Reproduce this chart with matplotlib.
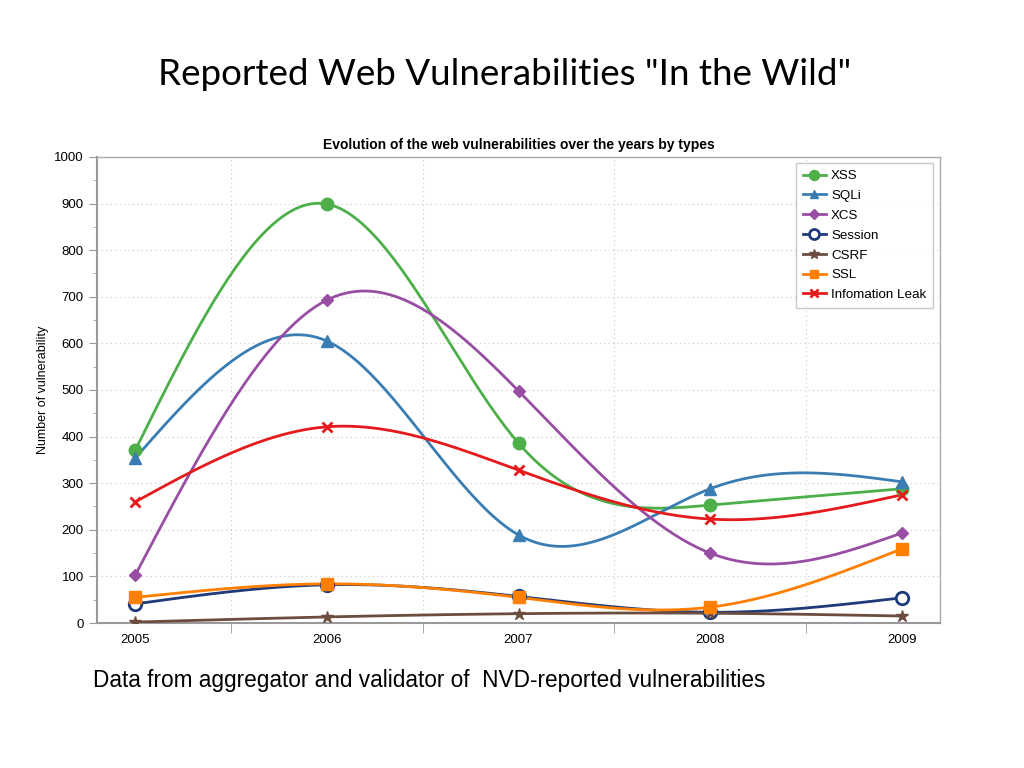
import numpy as np
import matplotlib
matplotlib.use("Agg")
import matplotlib.pyplot as plt
from matplotlib.ticker import MultipleLocator

years = [2005, 2006, 2007, 2008, 2009]
xss = [371, 899, 386, 253, 288]
sqli = [354, 605, 189, 288, 303]
xcs = [103, 693, 498, 150, 193]
session = [41, 82, 57, 23, 54]
csrf = [2, 13, 20, 21, 15]
ssl = [55, 84, 55, 34, 159]
info_leak = [260, 421, 328, 223, 275]


def natural_spline(x, y, n=200):
    # natural cubic spline through the data points, for the smooth lines
    x = np.asarray(x, float)
    y = np.asarray(y, float)
    k = len(x)
    h = np.diff(x)
    A = np.zeros((k, k))
    b = np.zeros(k)
    A[0, 0] = A[-1, -1] = 1
    for i in range(1, k - 1):
        A[i, i - 1] = h[i - 1]
        A[i, i] = 2 * (h[i - 1] + h[i])
        A[i, i + 1] = h[i]
        b[i] = 6 * ((y[i + 1] - y[i]) / h[i] - (y[i] - y[i - 1]) / h[i - 1])
    M = np.linalg.solve(A, b)
    xs = np.linspace(x[0], x[-1], n)
    idx = np.clip(np.searchsorted(x, xs) - 1, 0, k - 2)
    x0, x1 = x[idx], x[idx + 1]
    hh = x1 - x0
    a = (x1 - xs) / hh
    c = (xs - x0) / hh
    ys = (a * y[idx] + c * y[idx + 1]
          + ((a ** 3 - a) * M[idx] + (c ** 3 - c) * M[idx + 1]) * hh ** 2 / 6)
    return xs, ys


plt.rcParams["font.family"] = ["Liberation Sans", "DejaVu Sans"]

fig = plt.figure(figsize=(10.24, 7.68), dpi=100)
ax = fig.add_axes([0.0947, 0.1888, 0.8233, 0.6068])

series = [
    ("XSS", xss, "#4daf4a", "o", dict(markersize=9)),
    ("SQLi", sqli, "#3a7db3", "^", dict(markersize=8)),
    ("XCS", xcs, "#984ea3", "D", dict(markersize=6.5)),
    ("Session", session, "#1f3a78", "o", dict(markersize=9, markerfacecolor="white", markeredgewidth=2)),
    ("CSRF", csrf, "#6b4c3e", "*", dict(markersize=9)),
    ("SSL", ssl, "#ff7f00", "s", dict(markersize=8)),
    ("Infomation Leak", info_leak, "#e41a1c", "x", dict(markersize=7, markeredgewidth=2)),
]

for name, vals, color, marker, mkw in series:
    xs, ys = natural_spline(years, vals)
    ax.plot(xs, ys, color=color, lw=2, zorder=3)
    ax.plot(years, vals, linestyle="none", marker=marker, color=color, zorder=4, **mkw)
    ax.plot([], [], color=color, lw=2, marker=marker, label=name, **mkw)

ax.set_xlim(2004.8, 2009.2)
ax.set_ylim(0, 1000)
ax.set_xticks(years)
ax.set_xticklabels([str(y) for y in years], fontsize=9.5)
ax.tick_params(axis="x", which="major", length=0, pad=8)
ax.set_xticks([2005.5, 2006.5, 2007.5, 2008.5], minor=True)
ax.tick_params(axis="x", which="minor", length=7, color="#999999")

ax.yaxis.set_major_locator(MultipleLocator(100))
ax.yaxis.set_minor_locator(MultipleLocator(50))
ax.tick_params(axis="y", which="major", length=6, color="#999999", labelsize=9.5)
ax.tick_params(axis="y", which="minor", length=3, color="#999999")

ax.grid(axis="y", which="major", linestyle=(0, (1, 3)), color="#c8c8c8", lw=0.8)
ax.grid(axis="x", which="minor", linestyle=(0, (1, 3)), color="#c8c8c8", lw=0.8)

for side in ["left", "bottom"]:
    ax.spines[side].set_color("#999999")
    ax.spines[side].set_linewidth(1.5)
for side in ["top", "right"]:
    ax.spines[side].set_color("#aaaaaa")
    ax.spines[side].set_linewidth(1)

ax.set_ylabel("Number of vulnerability", fontsize=9)
ax.set_title("Evolution of the web vulnerabilities over the years by types",
             fontsize=10, fontweight="bold", pad=6)

leg = ax.legend(loc="upper right", fontsize=9.6, frameon=True, fancybox=False,
                borderpad=0.5, labelspacing=0.56, handlelength=1.7,
                handletextpad=0.4, markerscale=0.8, borderaxespad=0.3,
                bbox_to_anchor=(0.9965, 0.995))
leg.get_frame().set_edgecolor("#bbbbbb")
leg.get_frame().set_linewidth(1)

fig.text(0.493, 0.903, 'Reported Web Vulnerabilities "In the Wild"',
         ha="center", va="center", fontsize=26.5, family=["Lato", "DejaVu Sans"])
fig.text(0.091, 0.114, "Data from aggregator and validator of  NVD-reported vulnerabilities",
         ha="left", va="center", fontsize=16.3)

fig.savefig("out.png", dpi=100)
